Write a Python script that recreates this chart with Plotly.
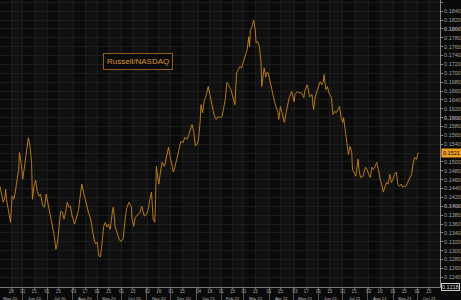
import numpy as np
import pandas as pd
import plotly.graph_objects as go

series_name = "Russell/NASDAQ"

dates = [
    "2020-05-04","2020-05-08","2020-05-10","2020-05-11","2020-05-12","2020-05-14","2020-05-17","2020-05-19",
    "2020-05-21","2020-05-23","2020-05-25","2020-05-27","2020-05-28","2020-05-30","2020-06-01","2020-06-02",
    "2020-06-04","2020-06-06","2020-06-08","2020-06-10","2020-06-12","2020-06-13","2020-06-15","2020-06-17",
    "2020-06-19","2020-06-21","2020-06-23","2020-06-26","2020-06-28","2020-06-30","2020-07-02","2020-07-04",
    "2020-07-07","2020-07-10","2020-07-12","2020-07-14","2020-07-16","2020-07-18","2020-07-20","2020-07-22",
    "2020-07-24","2020-07-26","2020-07-28","2020-07-30","2020-08-01","2020-08-04","2020-08-07","2020-08-09",
    "2020-08-11","2020-08-13","2020-08-16","2020-08-18","2020-08-21","2020-08-24","2020-08-26","2020-08-28",
    "2020-08-30","2020-09-01","2020-09-03","2020-09-05","2020-09-07","2020-09-09","2020-09-11","2020-09-13",
    "2020-09-15","2020-09-17","2020-09-20","2020-09-21","2020-09-23","2020-09-25","2020-09-28","2020-09-30",
    "2020-10-03","2020-10-05","2020-10-07","2020-10-10","2020-10-13","2020-10-14","2020-10-16","2020-10-18",
    "2020-10-21","2020-10-24","2020-10-26","2020-10-29","2020-11-01","2020-11-03","2020-11-05","2020-11-07",
    "2020-11-09","2020-11-11","2020-11-12","2020-11-13","2020-11-15","2020-11-16","2020-11-18","2020-11-20",
    "2020-11-23","2020-11-26","2020-11-28","2020-11-30","2020-12-02","2020-12-04","2020-12-06","2020-12-09",
    "2020-12-11","2020-12-13","2020-12-16","2020-12-18","2020-12-21","2020-12-23","2020-12-27","2020-12-29",
    "2020-12-31","2021-01-02","2021-01-04","2021-01-06","2021-01-07","2021-01-09","2021-01-11","2021-01-13",
    "2021-01-15","2021-01-16","2021-01-18","2021-01-20","2021-01-22","2021-01-24","2021-01-26","2021-01-28",
    "2021-01-31","2021-02-02","2021-02-04","2021-02-06","2021-02-08","2021-02-10","2021-02-13","2021-02-16",
    "2021-02-18","2021-02-19","2021-02-20","2021-02-22","2021-02-24","2021-02-26","2021-02-28","2021-03-02",
    "2021-03-05","2021-03-07","2021-03-08","2021-03-09","2021-03-11","2021-03-13","2021-03-15","2021-03-16",
    "2021-03-18","2021-03-20","2021-03-22","2021-03-23","2021-03-25","2021-03-26","2021-03-28","2021-03-29",
    "2021-03-31","2021-04-02","2021-04-04","2021-04-06","2021-04-08","2021-04-10","2021-04-12","2021-04-13",
    "2021-04-15","2021-04-17","2021-04-20","2021-04-22","2021-04-24","2021-04-26","2021-04-29","2021-05-02",
    "2021-05-03","2021-05-06","2021-05-08","2021-05-11","2021-05-14","2021-05-15","2021-05-18","2021-05-19",
    "2021-05-21","2021-05-24","2021-05-25","2021-05-26","2021-05-28","2021-05-30","2021-06-01","2021-06-03",
    "2021-06-05","2021-06-07","2021-06-08","2021-06-10","2021-06-12","2021-06-14","2021-06-17","2021-06-19",
    "2021-06-21","2021-06-23","2021-06-25","2021-06-27","2021-06-29","2021-07-01","2021-07-02","2021-07-04",
    "2021-07-06","2021-07-08","2021-07-10","2021-07-12","2021-07-13","2021-07-15","2021-07-17","2021-07-20",
    "2021-07-21","2021-07-23","2021-07-26","2021-07-29","2021-07-31","2021-08-02","2021-08-04","2021-08-06",
    "2021-08-08","2021-08-10","2021-08-12","2021-08-14","2021-08-16","2021-08-18","2021-08-20","2021-08-22",
    "2021-08-24","2021-08-26","2021-08-28","2021-08-30","2021-09-01","2021-09-03","2021-09-05","2021-09-07",
    "2021-09-09","2021-09-11","2021-09-13","2021-09-15","2021-09-17","2021-09-19","2021-09-21","2021-09-24",
    "2021-09-26","2021-09-28","2021-09-30","2021-10-02",
]

values = [
    0.1445,0.1409,0.1420,0.1438,0.1416,0.1393,0.1364,0.1423,
    0.1416,0.1434,0.1456,0.1483,0.1521,0.1499,0.1461,0.1472,
    0.1499,0.1528,0.1555,0.1535,0.1499,0.1416,0.1445,0.1459,
    0.1434,0.1423,0.1427,0.1400,0.1398,0.1427,0.1409,0.1387,
    0.1364,0.1333,0.1303,0.1319,0.1355,0.1389,0.1387,0.1371,
    0.1387,0.1409,0.1398,0.1400,0.1378,0.1360,0.1378,0.1393,
    0.1423,0.1450,0.1423,0.1411,0.1387,0.1371,0.1348,0.1326,
    0.1315,0.1319,0.1288,0.1286,0.1319,0.1355,0.1364,0.1353,
    0.1360,0.1348,0.1393,0.1398,0.1355,0.1342,0.1326,0.1321,
    0.1326,0.1364,0.1393,0.1409,0.1400,0.1371,0.1355,0.1375,
    0.1382,0.1387,0.1400,0.1378,0.1382,0.1393,0.1416,0.1432,
    0.1371,0.1364,0.1416,0.1490,0.1461,0.1450,0.1477,0.1499,
    0.1490,0.1512,0.1533,0.1512,0.1490,0.1477,0.1490,0.1510,
    0.1528,0.1546,0.1544,0.1555,0.1551,0.1562,0.1584,0.1569,
    0.1537,0.1539,0.1551,0.1591,0.1629,0.1611,0.1638,0.1647,
    0.1667,0.1670,0.1652,0.1629,0.1616,0.1602,0.1596,0.1602,
    0.1600,0.1602,0.1618,0.1641,0.1679,0.1674,0.1663,0.1641,
    0.1629,0.1670,0.1701,0.1708,0.1715,0.1712,0.1724,0.1737,
    0.1753,0.1782,0.1760,0.1798,0.1805,0.1820,0.1798,0.1769,
    0.1771,0.1760,0.1730,0.1670,0.1692,0.1712,0.1692,0.1701,
    0.1701,0.1685,0.1670,0.1647,0.1634,0.1623,0.1611,0.1596,
    0.1625,0.1611,0.1589,0.1611,0.1629,0.1645,0.1659,0.1636,
    0.1652,0.1659,0.1656,0.1656,0.1645,0.1659,0.1674,0.1668,
    0.1647,0.1652,0.1634,0.1618,0.1647,0.1659,0.1674,0.1681,
    0.1674,0.1681,0.1697,0.1663,0.1670,0.1656,0.1645,0.1607,
    0.1614,0.1611,0.1618,0.1625,0.1600,0.1589,0.1600,0.1573,
    0.1535,0.1517,0.1535,0.1524,0.1483,0.1477,0.1468,0.1506,
    0.1483,0.1465,0.1468,0.1488,0.1483,0.1472,0.1465,0.1488,
    0.1483,0.1490,0.1499,0.1483,0.1461,0.1450,0.1432,0.1443,
    0.1454,0.1450,0.1472,0.1454,0.1461,0.1472,0.1477,0.1450,
    0.1445,0.1450,0.1443,0.1445,0.1445,0.1454,0.1461,0.1472,
    0.1499,0.1510,0.1506,0.1521,
]

tick_dates = [
    "2020-05-18","2020-06-01","2020-06-15","2020-07-01","2020-07-15","2020-08-03","2020-08-17",
    "2020-09-01","2020-09-15","2020-10-01","2020-10-15","2020-11-02","2020-11-16","2020-12-01",
    "2020-12-15","2021-01-04","2021-01-18","2021-02-01","2021-02-15","2021-03-01","2021-03-15",
    "2021-04-01","2021-04-15","2021-05-03","2021-05-17","2021-06-01","2021-06-15","2021-07-01",
    "2021-07-15","2021-08-02","2021-08-16","2021-09-01","2021-09-15","2021-10-01","2021-10-15",
]
tick_labels = [d[-2:] for d in tick_dates]

month_starts = ["2020-05-01","2020-06-01","2020-07-01","2020-08-01","2020-09-01","2020-10-01",
                "2020-11-01","2020-12-01","2021-01-01","2021-02-01","2021-03-01","2021-04-01",
                "2021-05-01","2021-06-01","2021-07-01","2021-08-01","2021-09-01","2021-10-01",
                "2021-11-01"]
month_labels = ["May 20","Jun 20","Jul 20","Aug 20","Sep 20","Oct 20","Nov 20","Dec 20",
                "Jan 21","Feb 21","Mar 21","Apr 21","May 21","Jun 21","Jul 21","Aug 21",
                "Sep 21","Oct 21"]

x_range = ["2020-05-04", "2021-10-29"]
y_min, y_max = 0.1218, 0.18652

LINE = "#c8841a"
FONT = "Liberation Sans"
BG = "#0a0a0a"

fig = go.Figure()

# alternating column shading between date ticks
shapes = []
bounds = [x_range[0]] + tick_dates + [x_range[1]]
for i in range(len(bounds) - 1):
    if i % 2 == 1:
        shapes.append(dict(type="rect", xref="x", yref="paper", x0=bounds[i], x1=bounds[i + 1],
                           y0=0, y1=1, fillcolor="#111111", line=dict(width=0), layer="below"))

fig.add_trace(go.Scatter(x=pd.to_datetime(dates), y=values, mode="lines",
                         line=dict(color=LINE, width=0.9), showlegend=False, hoverinfo="skip"))

yt = np.round(np.arange(0.124, 0.1861, 0.002), 4)
ytext = []
for v in yt:
    s = f"{v:.4f}"
    if abs(round(v * 50) - v * 50) < 1e-6:
        ytext.append(f"<b>{s}</b>")
    else:
        ytext.append(s)

annotations = []
ms = pd.to_datetime(month_starts)
for i, lab in enumerate(month_labels):
    mid = ms[i] + (ms[i + 1] - ms[i]) / 2
    annotations.append(dict(x=mid, y=0, xref="x", yref="paper", yanchor="top", yshift=-6.6,
                            text=lab, showarrow=False, font=dict(size=4.3, color="#b8b8b8", family=FONT)))

annotations.append(dict(x=0.233, y=0.816, xref="paper", yref="paper", text=series_name,
                        showarrow=False, font=dict(size=8, color="#dc9526", family=FONT),
                        bordercolor="#94600f", borderwidth=1, borderpad=3, bgcolor=BG))
annotations.append(dict(x=1, y=values[-1], xref="paper", yref="y", xanchor="left", text=f"{values[-1]:.4f}",
                        showarrow=False, font=dict(size=5.5, color="#000000", family=FONT),
                        bgcolor="#f0a028", borderpad=1, xshift=1))
annotations.append(dict(x=1, y=y_min, xref="paper", yref="y", xanchor="left", yanchor="middle",
                        text=f"{y_min:.4f}", showarrow=False, font=dict(size=5.5, color="#dddddd", family=FONT),
                        bgcolor="#000000", bordercolor="#cccccc", borderwidth=1, borderpad=0, xshift=1))

fig.update_layout(
    width=461, height=300,
    margin=dict(l=0, r=15, t=0, b=13),
    paper_bgcolor=BG, plot_bgcolor=BG,
    shapes=shapes, annotations=annotations,
    xaxis=dict(type="date", range=x_range, tickmode="array",
               tickvals=pd.to_datetime(tick_dates), ticktext=tick_labels,
               tickfont=dict(size=4.5, color="#a8a8a8", family=FONT),
               ticklabelstandoff=-1,
               showgrid=True, gridcolor="#1c1c1c", gridwidth=1,
               showline=True, linecolor="#777777", linewidth=1,
               ticks="outside", ticklen=1, tickcolor="#777777",
               minor=dict(tickvals=ms, ticks="outside", ticklen=13, tickcolor="#555555", showgrid=False),
               zeroline=False),
    yaxis=dict(side="right", range=[y_min, y_max], tickmode="array", tickvals=yt, ticktext=ytext,
               tickfont=dict(size=5.5, color="#a0a0a0", family=FONT),
               showgrid=True, gridcolor="#1c1c1c", gridwidth=1,
               showline=True, linecolor="#888888", linewidth=1,
               ticks="outside", ticklen=2, tickcolor="#888888", zeroline=False),
)

fig.write_html("out.html")
